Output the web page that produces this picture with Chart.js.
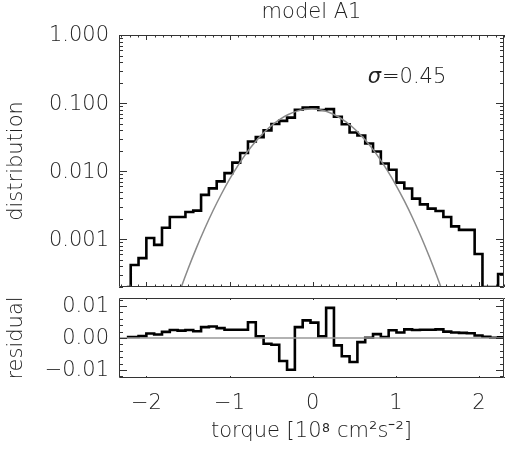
<!DOCTYPE html>
<html>
<head>
<meta charset="utf-8">
<script src="https://cdn.jsdelivr.net/npm/chart.js@4.4.1/dist/chart.umd.min.js"></script>
<style>
  html, body { margin: 0; padding: 0; background: #fff; }
  #wrap { position: relative; width: 509px; height: 449px; }
  #wrap canvas { position: absolute; left: 0; top: 0; }
</style>
</head>
<body>
<div id="wrap">
  <canvas id="distChart" width="509" height="449"></canvas>
  <canvas id="resChart" width="509" height="449"></canvas>
</div>
<script>
// textos
const titleText = 'model A1';
const distTitle = 'distribution';
const resTitle = 'residual';
const xTitle = 'torque [10⁸ cm²s⁻²]';
const sigmaSymbol = 'σ';
const sigmaText = '=0.45';
const sigmaPos = [0.66, 0.2];

// ejes
const xMin = -2.33, xMax = 2.30;
const xTickValues = [-2, -1, 0, 1, 2];
const distMin = 0.0002, distMax = 1;
const distTicks = [0.001, 0.01, 0.1, 1];
const resMin = -0.0125, resMax = 0.0125;
const resTicks = [-0.01, 0, 0.01];

// histograma (centros de bin)
const binCenters = [
  -2.236, -2.142, -2.048, -1.954, -1.860, -1.766, -1.672, -1.578, -1.484, -1.390,
  -1.296, -1.202, -1.108, -1.014, -0.920, -0.826, -0.732, -0.638, -0.544, -0.450,
  -0.356, -0.262, -0.168, -0.074, 0.020, 0.114, 0.208, 0.302, 0.396, 0.490,
  0.584, 0.678, 0.772, 0.866, 0.960, 1.054, 1.148, 1.242, 1.336, 1.430,
  1.524, 1.618, 1.712, 1.806, 1.900, 1.994, 2.088, 2.182, 2.276, 2.370
];
const histValues = [
  0.0002, 0.00042, 0.00053, 0.00105, 0.00083, 0.00148, 0.00213, 0.00213, 0.00252, 0.00264,
  0.0045, 0.0056, 0.0071, 0.0094, 0.0134, 0.0185, 0.0274, 0.0317, 0.0398, 0.0494,
  0.0548, 0.0613, 0.0801, 0.0864, 0.0865, 0.0791, 0.0817, 0.0630, 0.0490, 0.0370,
  0.0335, 0.0256, 0.0195, 0.0130, 0.0105, 0.0068, 0.00557, 0.00397, 0.00327, 0.00283,
  0.00261, 0.00213, 0.00155, 0.00138, 0.00138, 0.00061, 0.0002, 0.0002, 0.00031, 0.0002
];
const residValues = [
  0.0003, 0.0003, 0.0006, 0.0014, 0.0011, 0.0019, 0.0025, 0.0023, 0.0025, 0.0021,
  0.0034, 0.0036, 0.0031, 0.0026, 0.0026, 0.0026, 0.0049, 0.0005, -0.0018, -0.0021,
  -0.0072, -0.0099, 0.0034, 0.0055, 0.0048, 0.0005, 0.0094, -0.0023, -0.0057, -0.0075,
  -0.0013, 0.0001, 0.0012, 0.0003, 0.0024, 0.0017, 0.0027, 0.0025, 0.0026, 0.0026,
  0.0027, 0.0020, 0.0017, 0.0016, 0.0015, 0.0008, 0.0004, 0.0001, 0.0002, 0.0001
];

// curva gaussiana (gris)
const modelX = [
  -1.7, -1.6, -1.5, -1.4, -1.3, -1.2, -1.1, -1.0, -0.9, -0.8, -0.7, -0.6,
  -0.5, -0.4, -0.3, -0.2, -0.1, 0.0, 0.1, 0.2, 0.3, 0.4, 0.5, 0.6,
  0.7, 0.8, 0.9, 1.0, 1.1, 1.2, 1.3, 1.4, 1.5, 1.6, 1.7
];
const modelY = [
  0.000077, 0.000172, 0.000367, 0.000744, 0.00143, 0.00263, 0.0046, 0.00766, 0.0121, 0.0183, 0.0262, 0.0357,
  0.0464, 0.0574, 0.0675, 0.0757, 0.0806, 0.0819, 0.0790, 0.0728, 0.0636, 0.0530, 0.0420, 0.0317,
  0.0228, 0.0156, 0.0101, 0.00628, 0.0037, 0.00208, 0.00111, 0.000564, 0.000273, 0.000126, 0.000055
];

const FONT = { family: '"DejaVu Sans", sans-serif', size: 21, weight: 200 };
Chart.defaults.color = '#222';
Chart.defaults.font = FONT;

// marcas menores
const xMinor = [];
for (let i = -23; i <= 23; i++) if (i % 10 !== 0) xMinor.push(i / 10);
const distMinor = [];
[1e-4, 1e-3, 1e-2, 1e-1].forEach(d => {
  for (let m = 2; m <= 9; m++) {
    const v = m * d;
    if (v >= distMin && v <= distMax) distMinor.push(v);
  }
});
const resMinor = [-0.012, -0.008, -0.006, -0.004, -0.002, 0.002, 0.004, 0.006, 0.008, 0.012];

// marco estilo IDL con marcas hacia dentro
const idlFrame = {
  id: 'idlFrame',
  afterDraw(chart, args, o) {
    const { ctx, chartArea: a } = chart;
    const xs = chart.scales.x, ys = chart.scales.y;
    ctx.save();
    ctx.strokeStyle = '#333';
    ctx.lineWidth = 1;
    ctx.beginPath();
    ctx.rect(a.left + 0.5, a.top + 0.5, a.width - 1, a.height - 1);
    const mark = (list, len, horiz) => list.forEach(v => {
      if (horiz) {
        const p = Math.round(xs.getPixelForValue(v)) + 0.5;
        ctx.moveTo(p, a.bottom); ctx.lineTo(p, a.bottom - len);
        ctx.moveTo(p, a.top); ctx.lineTo(p, a.top + len);
      } else {
        const p = Math.round(ys.getPixelForValue(v)) + 0.5;
        ctx.moveTo(a.left, p); ctx.lineTo(a.left + len, p);
        ctx.moveTo(a.right, p); ctx.lineTo(a.right - len, p);
      }
    });
    mark(o.xMajor, o.xLen, true);
    mark(o.xMinor, o.xLen / 2, true);
    mark(o.yMajor, o.yLen, false);
    mark(o.yMinor, o.yLen / 2, false);
    ctx.stroke();
    ctx.restore();
  }
};

const sigmaNote = {
  id: 'sigmaNote',
  afterDatasetsDraw(chart) {
    const { ctx, scales: { x, y } } = chart;
    const px = x.getPixelForValue(sigmaPos[0]);
    const py = y.getPixelForValue(sigmaPos[1]);
    ctx.save();
    ctx.fillStyle = '#222';
    ctx.textBaseline = 'alphabetic';
    ctx.textAlign = 'left';
    ctx.font = 'italic 21px "DejaVu Sans"';
    ctx.fillText(sigmaSymbol, px, py);
    const w = ctx.measureText(sigmaSymbol).width;
    ctx.font = '200 21px "DejaVu Sans"';
    ctx.fillText(sigmaText, px + w + 1, py);
    ctx.restore();
  }
};

const minus = s => s.replace('-', '−');

new Chart(document.getElementById('distChart'), {
  type: 'line',
  data: {
    datasets: [
      {
        data: modelX.map((x, i) => ({ x, y: modelY[i] })),
        borderColor: '#8a8a8a',
        borderWidth: 1.5,
        pointRadius: 0,
        tension: 0.3,
        clip: 0
      },
      {
        data: binCenters.map((x, i) => ({ x, y: histValues[i] })),
        borderColor: '#000',
        borderWidth: 2.6,
        pointRadius: 0,
        stepped: 'middle',
        clip: 0
      }
    ]
  },
  options: {
    responsive: false,
    animation: false,
    devicePixelRatio: 1,
    layout: { padding: { right: 5, bottom: 162 } },
    plugins: {
      legend: { display: false },
      tooltip: { enabled: false },
      title: {
        display: true,
        text: titleText,
        fullSize: false,
        padding: { top: 0, bottom: 9.8 },
        font: FONT,
        color: '#222'
      },
      idlFrame: { xMajor: xTickValues, xMinor: xMinor, xLen: 5, yMajor: distTicks, yMinor: distMinor, yLen: 8 }
    },
    scales: {
      x: { type: 'linear', display: false, min: xMin, max: xMax },
      y: {
        type: 'logarithmic',
        min: distMin,
        max: distMax,
        afterBuildTicks: s => { s.ticks = distTicks.map(v => ({ value: v })); },
        afterFit: s => { s.width = 119; },
        grid: { display: false, drawTicks: false },
        border: { display: false },
        ticks: { padding: 10, labelOffset: 1, callback: v => v.toFixed(3) },
        title: { display: true, text: distTitle, padding: { top: 4 } }
      }
    }
  },
  plugins: [idlFrame, sigmaNote]
});

new Chart(document.getElementById('resChart'), {
  type: 'line',
  data: {
    datasets: [
      {
        data: [{ x: xMin, y: 0 }, { x: xMax, y: 0 }],
        borderColor: '#999',
        borderWidth: 1.5,
        pointRadius: 0,
        clip: 0
      },
      {
        data: binCenters.map((x, i) => ({ x, y: residValues[i] })),
        borderColor: '#000',
        borderWidth: 2.6,
        pointRadius: 0,
        stepped: 'middle',
        clip: 0
      }
    ]
  },
  options: {
    responsive: false,
    animation: false,
    devicePixelRatio: 1,
    layout: { padding: { top: 298, right: 5 } },
    plugins: {
      legend: { display: false },
      tooltip: { enabled: false },
      idlFrame: { xMajor: xTickValues, xMinor: xMinor, xLen: 2, yMajor: resTicks, yMinor: resMinor, yLen: 8 }
    },
    scales: {
      x: {
        type: 'linear',
        min: xMin,
        max: xMax,
        afterBuildTicks: s => { s.ticks = xTickValues.map(v => ({ value: v })); },
        afterFit: s => { s.height = 71; },
        grid: { display: false, drawTicks: false },
        border: { display: false },
        ticks: { padding: 13, autoSkip: false, maxRotation: 0, callback: v => minus(String(v)) },
        title: { display: true, text: xTitle, padding: { top: 0, bottom: 5 } }
      },
      y: {
        type: 'linear',
        min: resMin,
        max: resMax,
        afterBuildTicks: s => { s.ticks = resTicks.map(v => ({ value: v })); },
        afterFit: s => { s.width = 119; },
        grid: { display: false, drawTicks: false },
        border: { display: false },
        ticks: { padding: 10, labelOffset: 1, callback: v => minus(v.toFixed(2)) },
        title: { display: true, text: resTitle, padding: { top: 4 } }
      }
    }
  },
  plugins: [idlFrame]
});
</script>
</body>
</html>
